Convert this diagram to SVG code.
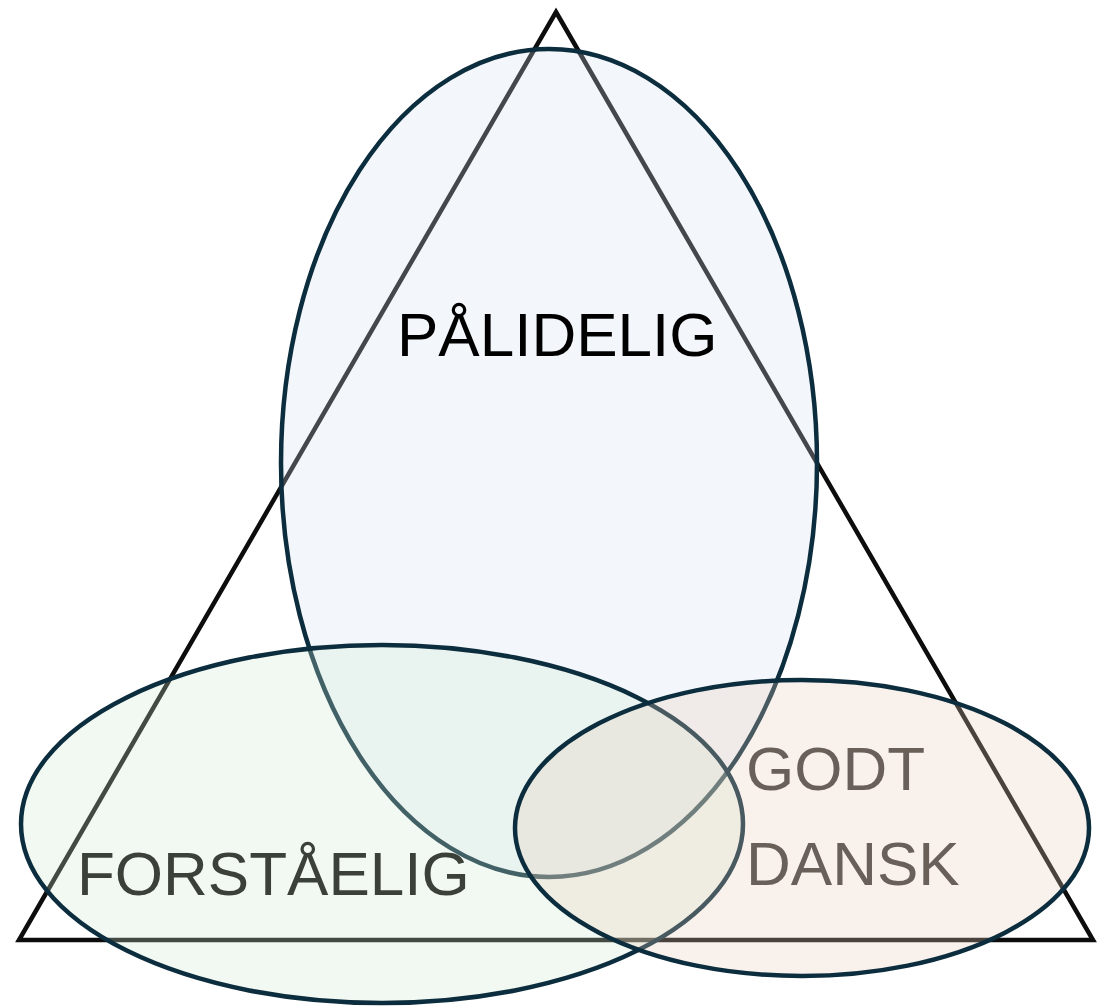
<svg xmlns="http://www.w3.org/2000/svg" width="1102" height="1007" viewBox="0 0 1102 1007">
<style>
.tri{fill:none;stroke:#0d0d0d;stroke-width:4.5;stroke-linejoin:miter}
.ell{stroke:#0c2d3e;stroke-width:4.5}
.lbl{font-family:"Liberation Sans",Arial,sans-serif;font-size:62px}
</style>
<rect width="1102" height="1007" fill="#ffffff"/>
<g id="triangle">
<polygon class="tri" points="556,12 1093,940 19,940"/>
</g>
<g id="node-palidelig">
<ellipse class="ell" cx="549" cy="463" rx="268" ry="414" fill="#d4e1f2" fill-opacity="0.28"/>
</g>
<g id="node-forstaelig">
<ellipse class="ell" cx="382" cy="824" rx="361" ry="179" fill="#d0e8d0" fill-opacity="0.28"/>
</g>
<g id="node-godt-dansk">
<ellipse class="ell" cx="802" cy="828" rx="287" ry="148" fill="#ebcdb9" fill-opacity="0.28"/>
</g>
<g id="labels">
<text class="lbl" x="397" y="356" fill="#000000">PÅLIDELIG</text>
<text class="lbl" x="77" y="895" fill="#3b4038">FORSTÅELIG</text>
<text class="lbl" x="746" y="790" fill="#69605a">GODT</text>
<text class="lbl" x="746" y="885" fill="#69605a">DANSK</text>
</g>
</svg>
